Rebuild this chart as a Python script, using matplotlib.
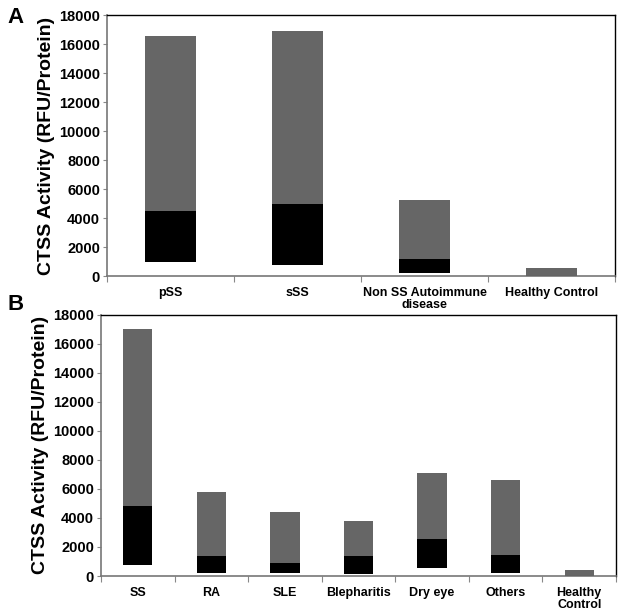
import matplotlib.pyplot as plt

plt.rcParams['font.family'] = ['Liberation Sans', 'DejaVu Sans']
plt.rcParams['font.weight'] = 'bold'
plt.rcParams['axes.labelweight'] = 'bold'

# Panel A: low / mid / high CTSS activity per group
groups_a = ["pSS", "sSS", "Non SS Autoimmune\ndisease", "Healthy Control"]
low_a = [950, 780, 190, 20]
mid_a = [4450, 4950, 1160, 100]
high_a = [16520, 16880, 5250, 540]

# Panel B
groups_b = ["SS", "RA", "SLE", "Blepharitis", "Dry eye", "Others", "Healthy\nControl"]
low_b = [760, 190, 190, 130, 540, 190, 20]
mid_b = [4830, 1390, 880, 1390, 2550, 1480, 100]
high_b = [17030, 5820, 4400, 3770, 7100, 6620, 420]

GRAY = "#666666"


def draw_panel(ax, groups, low, mid, high, tick_size):
    x = list(range(len(groups)))
    ax.bar(x, [m - l for l, m in zip(low, mid)], bottom=low, width=0.4, color="black")
    ax.bar(x, [h - m for m, h in zip(mid, high)], bottom=mid, width=0.4, color=GRAY)
    ax.set_xlim(-0.5, len(groups) - 0.5)
    ax.set_ylim(0, 18000)
    ax.set_yticks(range(0, 18001, 2000))
    ax.tick_params(axis="y", labelsize=10.5, length=3, width=0.8, color="#888888", pad=2)
    # category labels centered, ticks at category boundaries
    ax.set_xticks(x)
    ax.set_xticklabels(groups, fontsize=tick_size, linespacing=1.0)
    ax.tick_params(axis="x", which="major", length=0, pad=8)
    ax.set_xticks([i - 0.5 for i in range(len(groups) + 1)], minor=True)
    ax.tick_params(axis="x", which="minor", length=4, width=0.8, color="#888888")
    ax.set_ylabel("CTSS Activity (RFU/Protein)", fontsize=14, fontweight="bold", labelpad=3)
    for side in ["top", "right"]:
        ax.spines[side].set_color("black")
        ax.spines[side].set_linewidth(1.0)
    for side in ["left", "bottom"]:
        ax.spines[side].set_color("#777777")
        ax.spines[side].set_linewidth(1.2)


fig = plt.figure(figsize=(6.27, 6.15), dpi=100)
ax_a = fig.add_axes([0.1707, 0.5512, 0.8103, 0.4244])
ax_b = fig.add_axes([0.161, 0.0634, 0.8215, 0.4249])

draw_panel(ax_a, groups_a, low_a, mid_a, high_a, 9)
draw_panel(ax_b, groups_b, low_b, mid_b, high_b, 9)

fig.text(0.012, 0.972, "A", fontsize=16, fontweight="bold", va="center")
fig.text(0.012, 0.505, "B", fontsize=16, fontweight="bold", va="center")

fig.savefig("out.png", dpi=100)
